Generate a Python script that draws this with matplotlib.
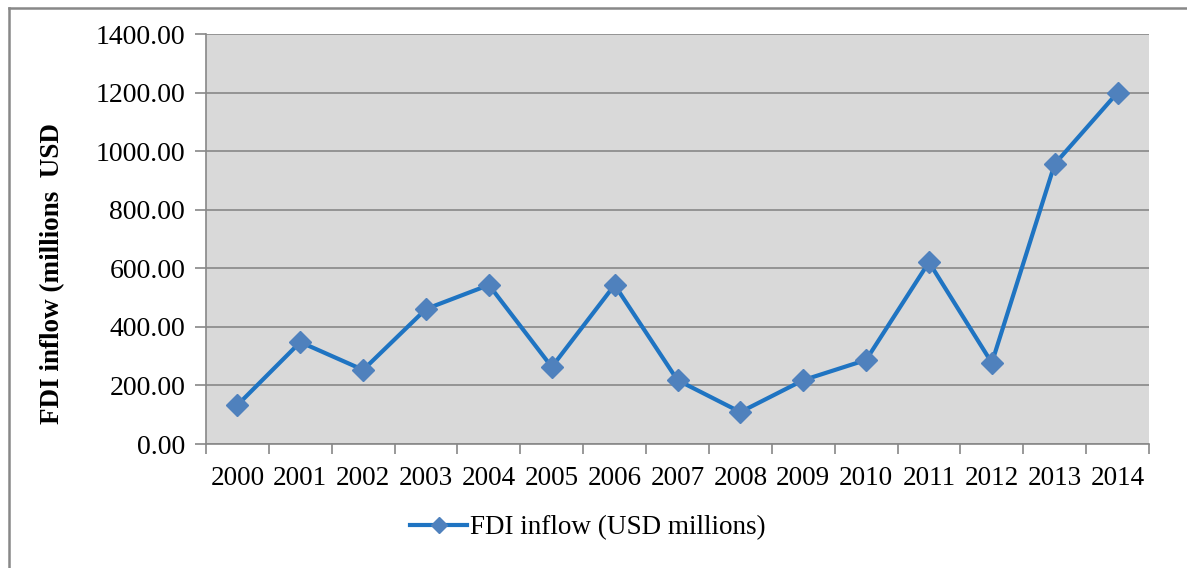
import matplotlib
matplotlib.use("Agg")
import matplotlib.pyplot as plt
from matplotlib.lines import Line2D
import numpy as np

years = ["2000", "2001", "2002", "2003", "2004", "2005", "2006", "2007",
         "2008", "2009", "2010", "2011", "2012", "2013", "2014"]
fdi = [133, 348, 253, 461, 543, 263, 543, 218, 109, 218, 287, 621, 277, 956, 1200]
yticks = [0, 200, 400, 600, 800, 1000, 1200, 1400]

plt.rcParams['font.family'] = ['Liberation Serif', 'DejaVu Serif']

W, H = 1187, 568
fig = plt.figure(figsize=(W / 100, H / 100), dpi=100)
ax = fig.add_axes([206 / W, 1 - 444 / H, (1149 - 206) / W, (444 - 34) / H])

x = np.arange(len(years))
ax.set_facecolor('#d9d9d9')
ax.plot(x, fdi, color='#1f74c2', lw=3, marker='D', markersize=11,
        markerfacecolor='#4f81bd', markeredgecolor='#4f81bd', zorder=3,
        label='FDI inflow (USD millions)')

ax.set_xlim(-0.5, len(years) - 0.5)
ax.set_ylim(0, 1400)
ax.set_yticks(yticks)
ax.set_yticklabels(["%.2f" % v for v in yticks])
ax.set_xticks(x)
ax.set_xticklabels(years)
ax.set_xticks(np.arange(-0.5, len(years), 1), minor=True)
ax.tick_params(axis='x', which='major', length=0, pad=16, labelsize=19.5)
ax.tick_params(axis='x', which='minor', length=7, color='#888888', width=1.2)
ax.tick_params(axis='y', length=8, color='#888888', width=1.2, labelsize=20, pad=7)
ax.grid(axis='y', color='#888888', lw=1.2)
ax.set_axisbelow(True)
for s in ['top', 'right']:
    ax.spines[s].set_visible(False)
for s in ['left', 'bottom']:
    ax.spines[s].set_color('#888888')
    ax.spines[s].set_linewidth(1.2)

fig.text(53 / W, 1 - 273 / H, 'FDI inflow (millions  USD', rotation=90,
         fontsize=19.5, fontweight='bold', ha='center', va='center')

fig.legend(loc='center', bbox_to_anchor=(588 / W, 1 - 528 / H), frameon=False,
           fontsize=19.5, handlelength=2.1, handletextpad=0.1, markerscale=0.7)

# outer chart border (left and top visible)
fig.add_artist(Line2D([8.5 / W, 8.5 / W], [0, 1 - 8 / H], color='#888888', lw=1.8,
                      transform=fig.transFigure))
fig.add_artist(Line2D([8.5 / W, 1], [1 - 8 / H, 1 - 8 / H], color='#888888', lw=1.8,
                      transform=fig.transFigure))

fig.savefig('out.png', dpi=100, facecolor='white')
